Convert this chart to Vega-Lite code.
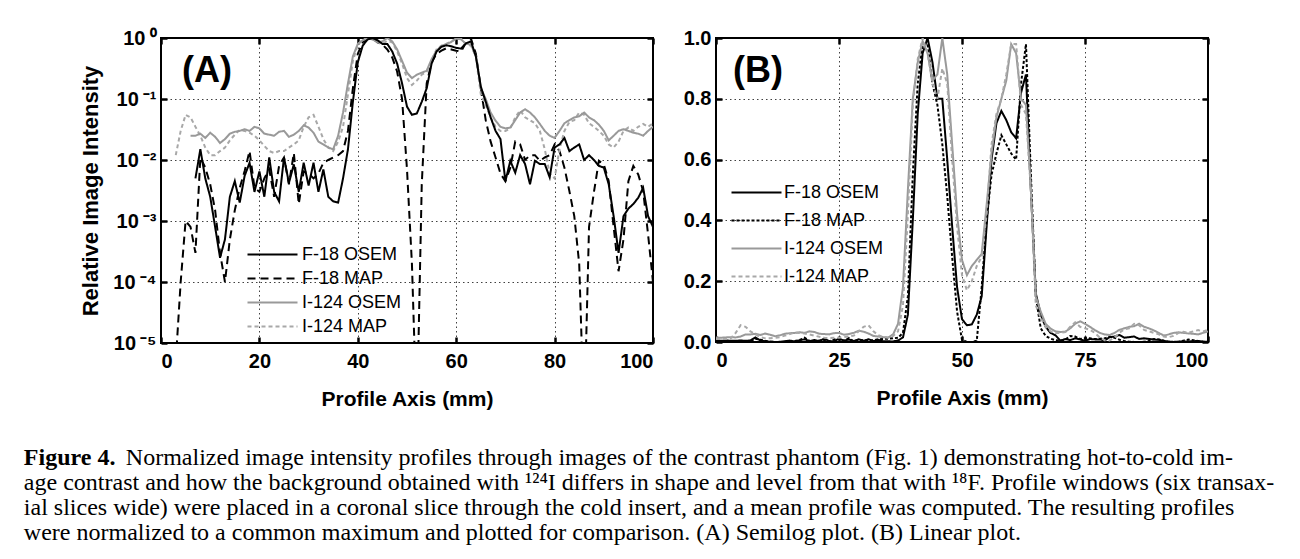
{
  "$schema": "https://vega.github.io/schema/vega-lite/v6.json",
  "padding": {"left": 23, "top": 27, "right": 10, "bottom": 10},
  "background": "#ffffff",
  "datasets": {
    "profiles": [
      {"mm":0,"F-18 OSEM":0.004,"F-18 MAP":0.002,"I-124 OSEM":0.015,"I-124 MAP":0.01},
      {"mm":1,"F-18 OSEM":0.004,"F-18 MAP":0.002,"I-124 OSEM":0.014,"I-124 MAP":0.01},
      {"mm":2,"F-18 OSEM":0.005,"F-18 MAP":0.002,"I-124 OSEM":0.015,"I-124 MAP":0.01},
      {"mm":3,"F-18 OSEM":0.004,"F-18 MAP":0.000005,"I-124 OSEM":0.016,"I-124 MAP":0.012},
      {"mm":4,"F-18 OSEM":0.004,"F-18 MAP":0.0001,"I-124 OSEM":0.015,"I-124 MAP":0.03},
      {"mm":5,"F-18 OSEM":0.005,"F-18 MAP":0.001,"I-124 OSEM":0.018,"I-124 MAP":0.055},
      {"mm":6,"F-18 OSEM":0.004,"F-18 MAP":0.0008,"I-124 OSEM":0.025,"I-124 MAP":0.05},
      {"mm":7,"F-18 OSEM":0.005,"F-18 MAP":0.0003,"I-124 OSEM":0.025,"I-124 MAP":0.035},
      {"mm":8,"F-18 OSEM":0.015,"F-18 MAP":0.011,"I-124 OSEM":0.027,"I-124 MAP":0.025},
      {"mm":9,"F-18 OSEM":0.005,"F-18 MAP":0.0075,"I-124 OSEM":0.023,"I-124 MAP":0.016},
      {"mm":10,"F-18 OSEM":0.0025,"F-18 MAP":0.004,"I-124 OSEM":0.028,"I-124 MAP":0.012},
      {"mm":11,"F-18 OSEM":0.0008,"F-18 MAP":0.0015,"I-124 OSEM":0.024,"I-124 MAP":0.012},
      {"mm":12,"F-18 OSEM":0.00025,"F-18 MAP":0.0003,"I-124 OSEM":0.019,"I-124 MAP":0.014},
      {"mm":13,"F-18 OSEM":0.0005,"F-18 MAP":0.0001,"I-124 OSEM":0.022,"I-124 MAP":0.016},
      {"mm":14,"F-18 OSEM":0.0025,"F-18 MAP":0.0005,"I-124 OSEM":0.027,"I-124 MAP":0.021},
      {"mm":15,"F-18 OSEM":0.0045,"F-18 MAP":0.0015,"I-124 OSEM":0.029,"I-124 MAP":0.026},
      {"mm":16,"F-18 OSEM":0.002,"F-18 MAP":0.0035,"I-124 OSEM":0.03,"I-124 MAP":0.031},
      {"mm":17,"F-18 OSEM":0.0055,"F-18 MAP":0.0066,"I-124 OSEM":0.032,"I-124 MAP":0.03},
      {"mm":18,"F-18 OSEM":0.009,"F-18 MAP":0.014,"I-124 OSEM":0.03,"I-124 MAP":0.028},
      {"mm":19,"F-18 OSEM":0.003,"F-18 MAP":0.0035,"I-124 OSEM":0.035,"I-124 MAP":0.025},
      {"mm":20,"F-18 OSEM":0.0065,"F-18 MAP":0.003,"I-124 OSEM":0.033,"I-124 MAP":0.021},
      {"mm":21,"F-18 OSEM":0.0025,"F-18 MAP":0.005,"I-124 OSEM":0.027,"I-124 MAP":0.017},
      {"mm":22,"F-18 OSEM":0.011,"F-18 MAP":0.007,"I-124 OSEM":0.026,"I-124 MAP":0.014},
      {"mm":23,"F-18 OSEM":0.003,"F-18 MAP":0.0025,"I-124 OSEM":0.025,"I-124 MAP":0.013},
      {"mm":24,"F-18 OSEM":0.0021,"F-18 MAP":0.008,"I-124 OSEM":0.029,"I-124 MAP":0.014},
      {"mm":25,"F-18 OSEM":0.011,"F-18 MAP":0.011,"I-124 OSEM":0.03,"I-124 MAP":0.014},
      {"mm":26,"F-18 OSEM":0.0042,"F-18 MAP":0.004,"I-124 OSEM":0.024,"I-124 MAP":0.016},
      {"mm":27,"F-18 OSEM":0.0085,"F-18 MAP":0.013,"I-124 OSEM":0.026,"I-124 MAP":0.018},
      {"mm":28,"F-18 OSEM":0.003,"F-18 MAP":0.0019,"I-124 OSEM":0.03,"I-124 MAP":0.021},
      {"mm":29,"F-18 OSEM":0.009,"F-18 MAP":0.0065,"I-124 OSEM":0.037,"I-124 MAP":0.035},
      {"mm":30,"F-18 OSEM":0.0038,"F-18 MAP":0.006,"I-124 OSEM":0.034,"I-124 MAP":0.05},
      {"mm":31,"F-18 OSEM":0.009,"F-18 MAP":0.005,"I-124 OSEM":0.028,"I-124 MAP":0.055},
      {"mm":32,"F-18 OSEM":0.003,"F-18 MAP":0.006,"I-124 OSEM":0.02,"I-124 MAP":0.035},
      {"mm":33,"F-18 OSEM":0.007,"F-18 MAP":0.009,"I-124 OSEM":0.018,"I-124 MAP":0.022},
      {"mm":34,"F-18 OSEM":0.0025,"F-18 MAP":0.01,"I-124 OSEM":0.016,"I-124 MAP":0.016},
      {"mm":35,"F-18 OSEM":0.0021,"F-18 MAP":0.011,"I-124 OSEM":0.015,"I-124 MAP":0.014},
      {"mm":36,"F-18 OSEM":0.002,"F-18 MAP":0.012,"I-124 OSEM":0.025,"I-124 MAP":0.02},
      {"mm":37,"F-18 OSEM":0.005,"F-18 MAP":0.014,"I-124 OSEM":0.06,"I-124 MAP":0.035},
      {"mm":38,"F-18 OSEM":0.015,"F-18 MAP":0.03,"I-124 OSEM":0.18,"I-124 MAP":0.12},
      {"mm":39,"F-18 OSEM":0.09,"F-18 MAP":0.15,"I-124 OSEM":0.5,"I-124 MAP":0.42},
      {"mm":40,"F-18 OSEM":0.4,"F-18 MAP":0.55,"I-124 OSEM":0.8,"I-124 MAP":0.78},
      {"mm":41,"F-18 OSEM":0.75,"F-18 MAP":0.85,"I-124 OSEM":0.92,"I-124 MAP":0.93},
      {"mm":42,"F-18 OSEM":0.95,"F-18 MAP":0.98,"I-124 OSEM":0.99,"I-124 MAP":1.0},
      {"mm":43,"F-18 OSEM":1.0,"F-18 MAP":0.98,"I-124 OSEM":0.95,"I-124 MAP":0.95},
      {"mm":44,"F-18 OSEM":0.92,"F-18 MAP":0.85,"I-124 OSEM":0.86,"I-124 MAP":0.85},
      {"mm":45,"F-18 OSEM":0.8,"F-18 MAP":0.78,"I-124 OSEM":0.88,"I-124 MAP":0.8},
      {"mm":46,"F-18 OSEM":0.8,"F-18 MAP":0.65,"I-124 OSEM":1.0,"I-124 MAP":0.9},
      {"mm":47,"F-18 OSEM":0.6,"F-18 MAP":0.48,"I-124 OSEM":0.88,"I-124 MAP":0.85},
      {"mm":48,"F-18 OSEM":0.38,"F-18 MAP":0.28,"I-124 OSEM":0.65,"I-124 MAP":0.6},
      {"mm":49,"F-18 OSEM":0.18,"F-18 MAP":0.1,"I-124 OSEM":0.42,"I-124 MAP":0.38},
      {"mm":50,"F-18 OSEM":0.075,"F-18 MAP":0.007,"I-124 OSEM":0.27,"I-124 MAP":0.22},
      {"mm":51,"F-18 OSEM":0.055,"F-18 MAP":0.0002,"I-124 OSEM":0.22,"I-124 MAP":0.17},
      {"mm":52,"F-18 OSEM":0.058,"F-18 MAP":0.0000005,"I-124 OSEM":0.25,"I-124 MAP":0.2},
      {"mm":53,"F-18 OSEM":0.09,"F-18 MAP":0.004,"I-124 OSEM":0.27,"I-124 MAP":0.25},
      {"mm":54,"F-18 OSEM":0.15,"F-18 MAP":0.18,"I-124 OSEM":0.29,"I-124 MAP":0.28},
      {"mm":55,"F-18 OSEM":0.38,"F-18 MAP":0.4,"I-124 OSEM":0.45,"I-124 MAP":0.42},
      {"mm":56,"F-18 OSEM":0.6,"F-18 MAP":0.55,"I-124 OSEM":0.62,"I-124 MAP":0.65},
      {"mm":57,"F-18 OSEM":0.72,"F-18 MAP":0.62,"I-124 OSEM":0.74,"I-124 MAP":0.75},
      {"mm":58,"F-18 OSEM":0.76,"F-18 MAP":0.68,"I-124 OSEM":0.8,"I-124 MAP":0.8},
      {"mm":59,"F-18 OSEM":0.73,"F-18 MAP":0.65,"I-124 OSEM":0.86,"I-124 MAP":0.88},
      {"mm":60,"F-18 OSEM":0.69,"F-18 MAP":0.62,"I-124 OSEM":0.98,"I-124 MAP":0.98},
      {"mm":61,"F-18 OSEM":0.67,"F-18 MAP":0.6,"I-124 OSEM":0.95,"I-124 MAP":0.98},
      {"mm":62,"F-18 OSEM":0.82,"F-18 MAP":0.85,"I-124 OSEM":0.8,"I-124 MAP":0.78},
      {"mm":63,"F-18 OSEM":0.88,"F-18 MAP":0.98,"I-124 OSEM":0.78,"I-124 MAP":0.75},
      {"mm":64,"F-18 OSEM":0.5,"F-18 MAP":0.55,"I-124 OSEM":0.5,"I-124 MAP":0.5},
      {"mm":65,"F-18 OSEM":0.16,"F-18 MAP":0.15,"I-124 OSEM":0.15,"I-124 MAP":0.12},
      {"mm":66,"F-18 OSEM":0.09,"F-18 MAP":0.045,"I-124 OSEM":0.1,"I-124 MAP":0.08},
      {"mm":67,"F-18 OSEM":0.05,"F-18 MAP":0.02,"I-124 OSEM":0.06,"I-124 MAP":0.05},
      {"mm":68,"F-18 OSEM":0.03,"F-18 MAP":0.011,"I-124 OSEM":0.044,"I-124 MAP":0.035},
      {"mm":69,"F-18 OSEM":0.022,"F-18 MAP":0.006,"I-124 OSEM":0.035,"I-124 MAP":0.03},
      {"mm":70,"F-18 OSEM":0.0045,"F-18 MAP":0.0045,"I-124 OSEM":0.033,"I-124 MAP":0.03},
      {"mm":71,"F-18 OSEM":0.0097,"F-18 MAP":0.0075,"I-124 OSEM":0.034,"I-124 MAP":0.033},
      {"mm":72,"F-18 OSEM":0.0062,"F-18 MAP":0.02,"I-124 OSEM":0.045,"I-124 MAP":0.05},
      {"mm":73,"F-18 OSEM":0.012,"F-18 MAP":0.018,"I-124 OSEM":0.06,"I-124 MAP":0.065},
      {"mm":74,"F-18 OSEM":0.0086,"F-18 MAP":0.01,"I-124 OSEM":0.068,"I-124 MAP":0.05},
      {"mm":75,"F-18 OSEM":0.004,"F-18 MAP":0.012,"I-124 OSEM":0.06,"I-124 MAP":0.045},
      {"mm":76,"F-18 OSEM":0.0097,"F-18 MAP":0.012,"I-124 OSEM":0.05,"I-124 MAP":0.04},
      {"mm":77,"F-18 OSEM":0.0086,"F-18 MAP":0.0097,"I-124 OSEM":0.039,"I-124 MAP":0.03},
      {"mm":78,"F-18 OSEM":0.0086,"F-18 MAP":0.011,"I-124 OSEM":0.03,"I-124 MAP":0.015},
      {"mm":79,"F-18 OSEM":0.0052,"F-18 MAP":0.012,"I-124 OSEM":0.025,"I-124 MAP":0.006},
      {"mm":80,"F-18 OSEM":0.016,"F-18 MAP":0.018,"I-124 OSEM":0.023,"I-124 MAP":0.005},
      {"mm":81,"F-18 OSEM":0.018,"F-18 MAP":0.014,"I-124 OSEM":0.03,"I-124 MAP":0.015},
      {"mm":82,"F-18 OSEM":0.023,"F-18 MAP":0.0075,"I-124 OSEM":0.04,"I-124 MAP":0.03},
      {"mm":83,"F-18 OSEM":0.014,"F-18 MAP":0.0031,"I-124 OSEM":0.045,"I-124 MAP":0.042},
      {"mm":84,"F-18 OSEM":0.016,"F-18 MAP":0.0012,"I-124 OSEM":0.05,"I-124 MAP":0.045},
      {"mm":85,"F-18 OSEM":0.018,"F-18 MAP":0.0002,"I-124 OSEM":0.052,"I-124 MAP":0.06},
      {"mm":86,"F-18 OSEM":0.01,"F-18 MAP":0.0000005,"I-124 OSEM":0.06,"I-124 MAP":0.055},
      {"mm":87,"F-18 OSEM":0.012,"F-18 MAP":0.0008,"I-124 OSEM":0.05,"I-124 MAP":0.04},
      {"mm":88,"F-18 OSEM":0.01,"F-18 MAP":0.003,"I-124 OSEM":0.045,"I-124 MAP":0.035},
      {"mm":89,"F-18 OSEM":0.008,"F-18 MAP":0.0097,"I-124 OSEM":0.038,"I-124 MAP":0.03},
      {"mm":90,"F-18 OSEM":0.0075,"F-18 MAP":0.0085,"I-124 OSEM":0.03,"I-124 MAP":0.025},
      {"mm":91,"F-18 OSEM":0.004,"F-18 MAP":0.0045,"I-124 OSEM":0.021,"I-124 MAP":0.018},
      {"mm":92,"F-18 OSEM":0.0012,"F-18 MAP":0.0008,"I-124 OSEM":0.025,"I-124 MAP":0.016},
      {"mm":93,"F-18 OSEM":0.0003,"F-18 MAP":0.00015,"I-124 OSEM":0.03,"I-124 MAP":0.02},
      {"mm":94,"F-18 OSEM":0.0012,"F-18 MAP":0.0005,"I-124 OSEM":0.032,"I-124 MAP":0.03},
      {"mm":95,"F-18 OSEM":0.0016,"F-18 MAP":0.0045,"I-124 OSEM":0.03,"I-124 MAP":0.034},
      {"mm":96,"F-18 OSEM":0.0019,"F-18 MAP":0.008,"I-124 OSEM":0.028,"I-124 MAP":0.03},
      {"mm":97,"F-18 OSEM":0.0024,"F-18 MAP":0.0058,"I-124 OSEM":0.027,"I-124 MAP":0.035},
      {"mm":98,"F-18 OSEM":0.0035,"F-18 MAP":0.0031,"I-124 OSEM":0.025,"I-124 MAP":0.039},
      {"mm":99,"F-18 OSEM":0.0012,"F-18 MAP":0.0006,"I-124 OSEM":0.03,"I-124 MAP":0.035},
      {"mm":100,"F-18 OSEM":0.0008,"F-18 MAP":0.0001,"I-124 OSEM":0.035,"I-124 MAP":0.04}
    ]
  },
  "title": {
    "text": "Figure 4.",
    "subtitle": [
      "\u200b\u2003\u2003\u2003\u2003\u00a0Normalized image intensity profiles through images of the contrast phantom (Fig. 1) demonstrating hot-to-cold im-",
      "age contrast and how the background obtained with \u00b9\u00b2\u2074I differs in shape and level from that with \u00b9\u2078F. Profile windows (six transax-",
      "ial slices wide) were placed in a coronal slice through the cold insert, and a mean profile was computed. The resulting profiles",
      "were normalized to a common maximum and plotted for comparison. (A) Semilog plot. (B) Linear plot."
    ],
    "orient": "bottom",
    "anchor": "start",
    "frame": "bounds",
    "font": "Liberation Serif",
    "fontSize": 24,
    "fontWeight": "bold",
    "color": "#000000",
    "subtitleFont": "Liberation Serif",
    "subtitleFontSize": 24,
    "subtitleFontWeight": "normal",
    "subtitleColor": "#000000",
    "subtitleLineHeight": 25,
    "subtitlePadding": -24,
    "offset": 23,
    "dx": -55
  },
  "spacing": 63,
  "bounds": "flush",
  "hconcat": [
    {
      "width": 492,
      "height": 305,
      "data": {"name": "profiles"},
      "transform": [
        {"fold": ["F-18 OSEM", "F-18 MAP", "I-124 OSEM", "I-124 MAP"], "as": ["series", "value"]},
        {"filter": "datum.value > 0 && datum.mm >= (datum.series == 'F-18 OSEM' ? 7 : datum.series == 'I-124 OSEM' ? 6 : 3)"}
      ],
      "title": {"text": "(A)", "anchor": "start", "frame": "group", "fontSize": 36, "font": "Liberation Sans", "fontWeight": "bold", "color": "#000000", "offset": -90, "dx": 21, "baseline": "alphabetic"},
      "layer": [
        {
          "mark": {"type": "line", "strokeWidth": 2, "clip": true},
          "encoding": {
            "x": {"field": "mm", "type": "quantitative", "scale": {"domain": [0, 100], "nice": false},
                  "axis": {"values": [0, 20, 40, 60, 80, 100], "title": "Profile Axis (mm)"}},
            "y": {"field": "value", "type": "quantitative", "scale": {"type": "log", "domain": [0.00001, 1], "nice": false},
                  "axis": {"values": [1, 0.1, 0.01, 0.001, 0.0001, 0.00001], "title": "Relative Image Intensity",
                           "labelExpr": "'10' + '\u2009' + ['\u2070','\u207b\u00b9','\u207b\u00b2','\u207b\u00b3','\u207b\u2074','\u207b\u2075'][round(-log(datum.value)/LN10)]"}},
            "color": {"field": "series", "type": "nominal",
                      "scale": {"domain": ["F-18 OSEM", "F-18 MAP", "I-124 OSEM", "I-124 MAP"], "range": ["#000000", "#000000", "#999999", "#a8a8a8"]},
                      "legend": {"orient": "none", "legendX": 98, "legendY": 203, "title": null, "labelOffset": 16, "rowPadding": 1}},
            "strokeDash": {"field": "series", "type": "nominal",
                           "scale": {"domain": ["F-18 OSEM", "F-18 MAP", "I-124 OSEM", "I-124 MAP"], "range": [[1, 0], [8, 5], [1, 0], [4, 3]]},
                           "legend": {"orient": "none", "legendX": 98, "legendY": 203, "title": null, "labelOffset": 16, "rowPadding": 1}}
          }
        },
        {
          "mark": {"type": "line", "strokeOpacity": 0},
          "encoding": {
            "x": {"field": "mm", "type": "quantitative", "axis": {"orient": "top", "values": [0, 20, 40, 60, 80, 100], "labels": false, "grid": false, "ticks": true, "offset": -6, "title": null}},
            "y": {"field": "value", "type": "quantitative", "axis": {"orient": "right", "values": [1, 0.1, 0.01, 0.001, 0.0001, 0.00001], "labels": false, "grid": false, "ticks": true, "offset": -6, "title": null}},
            "detail": {"field": "series"}
          }
        },
        {
          "mark": {"type": "line", "strokeOpacity": 0},
          "encoding": {
            "x": {"field": "mm", "type": "quantitative", "axis": {"orient": "bottom", "values": [0, 20, 40, 60, 80, 100], "labels": false, "grid": false, "ticks": true, "offset": -6, "title": null}},
            "y": {"field": "value", "type": "quantitative", "axis": {"orient": "left", "values": [1, 0.1, 0.01, 0.001, 0.0001, 0.00001], "labels": false, "grid": false, "ticks": true, "offset": -6, "title": null}},
            "detail": {"field": "series"}
          }
        }
      ],
      "resolve": {"axis": {"x": "independent", "y": "independent"}}
    },
    {
      "width": 492,
      "height": 304,
      "data": {"name": "profiles"},
      "transform": [
        {"fold": ["F-18 OSEM", "F-18 MAP", "I-124 OSEM", "I-124 MAP"], "as": ["series", "value"]}
      ],
      "title": {"text": "(B)", "anchor": "start", "frame": "group", "fontSize": 36, "font": "Liberation Sans", "fontWeight": "bold", "color": "#000000", "offset": -90, "dx": 17, "baseline": "alphabetic"},
      "layer": [
        {
          "mark": {"type": "line", "strokeWidth": 2, "clip": true},
          "encoding": {
            "x": {"field": "mm", "type": "quantitative", "scale": {"domain": [0, 100], "nice": false},
                  "axis": {"values": [0, 25, 50, 75, 100], "title": "Profile Axis (mm)"}},
            "y": {"field": "value", "type": "quantitative", "scale": {"domain": [0, 1], "nice": false},
                  "axis": {"values": [0, 0.2, 0.4, 0.6, 0.8, 1], "format": ".1f", "title": null}},
            "color": {"field": "series", "type": "nominal",
                      "scale": {"domain": ["F-18 OSEM", "F-18 MAP", "I-124 OSEM", "I-124 MAP"], "range": ["#000000", "#000000", "#999999", "#a8a8a8"]},
                      "legend": {"orient": "none", "legendX": 27, "legendY": 141, "title": null, "labelOffset": 14, "rowPadding": 5}},
            "strokeDash": {"field": "series", "type": "nominal",
                           "scale": {"domain": ["F-18 OSEM", "F-18 MAP", "I-124 OSEM", "I-124 MAP"], "range": [[1, 0], [3, 2], [1, 0], [4, 3]]},
                           "legend": {"orient": "none", "legendX": 27, "legendY": 141, "title": null, "labelOffset": 14, "rowPadding": 5}}
          }
        },
        {
          "mark": {"type": "line", "strokeOpacity": 0},
          "encoding": {
            "x": {"field": "mm", "type": "quantitative", "axis": {"orient": "top", "values": [0, 25, 50, 75, 100], "labels": false, "grid": false, "ticks": true, "offset": -6, "title": null}},
            "y": {"field": "value", "type": "quantitative", "axis": {"orient": "right", "values": [0, 0.2, 0.4, 0.6, 0.8, 1], "labels": false, "grid": false, "ticks": true, "offset": -6, "title": null}},
            "detail": {"field": "series"}
          }
        },
        {
          "mark": {"type": "line", "strokeOpacity": 0},
          "encoding": {
            "x": {"field": "mm", "type": "quantitative", "axis": {"orient": "bottom", "values": [0, 25, 50, 75, 100], "labels": false, "grid": false, "ticks": true, "offset": -6, "title": null}},
            "y": {"field": "value", "type": "quantitative", "axis": {"orient": "left", "values": [0, 0.2, 0.4, 0.6, 0.8, 1], "labels": false, "grid": false, "ticks": true, "offset": -6, "title": null}},
            "detail": {"field": "series"}
          }
        }
      ],
      "resolve": {"axis": {"x": "independent", "y": "independent"}}
    }
  ],
  "resolve": {"scale": {"color": "independent", "strokeDash": "independent"}, "legend": {"color": "independent", "strokeDash": "independent"}},
  "config": {
    "view": {"stroke": "#000000", "strokeWidth": 2},
    "axis": {
      "labelFont": "Liberation Sans", "labelFontWeight": "bold", "labelFontSize": 20, "labelColor": "#000000",
      "titleFont": "Liberation Sans", "titleFontWeight": "bold", "titleFontSize": 21, "titleColor": "#000000",
      "domain": false, "grid": true, "gridColor": "#000000", "gridDash": [1.5, 3], "gridWidth": 1, "gridOpacity": 0.75,
      "ticks": false, "tickColor": "#000000", "tickWidth": 2.5, "tickSize": 6
    },
    "axisX": {"labelPadding": 8, "titlePadding": 17},
    "axisY": {"labelPadding": 5, "titlePadding": 10, "titleFontSize": 22},
    "legend": {
      "labelFont": "Liberation Sans", "labelFontSize": 18, "labelColor": "#000000",
      "symbolType": "M-2,0L2,0", "symbolSize": 625, "symbolStrokeWidth": 2,
      "padding": 0
    }
  }
}
